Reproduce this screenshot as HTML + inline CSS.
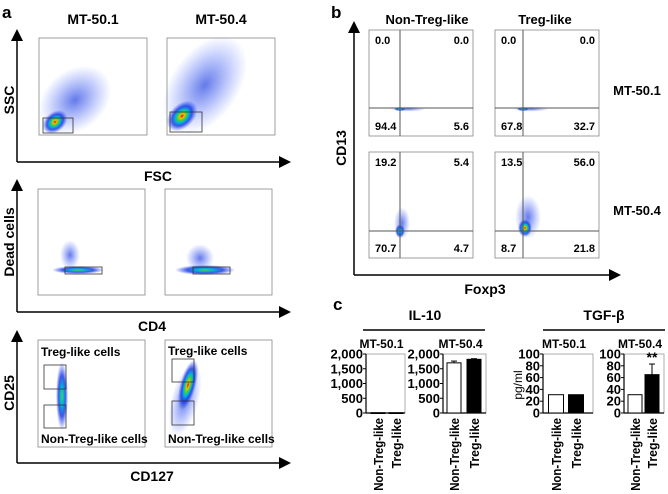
<!DOCTYPE html>
<html><head><meta charset="utf-8"><style>
html,body{margin:0;padding:0;background:#fff}
svg{display:block;font-family:"Liberation Sans",Arial,sans-serif;font-weight:bold}
</style></head><body>
<svg id="fig" width="668" height="494" viewBox="0 0 668 494">
<defs>
<radialGradient id="jet"><stop offset="0" stop-color="#e00000"/><stop offset="0.15" stop-color="#f0c000"/><stop offset="0.3" stop-color="#40d040"/><stop offset="0.45" stop-color="#00b0e0"/><stop offset="0.65" stop-color="#1030e0" stop-opacity="0.8"/><stop offset="1" stop-color="#2040ff" stop-opacity="0"/></radialGradient>
<radialGradient id="gjet"><stop offset="0" stop-color="#50d040"/><stop offset="0.3" stop-color="#00b0e0"/><stop offset="0.6" stop-color="#1030e0" stop-opacity="0.8"/><stop offset="1" stop-color="#2040ff" stop-opacity="0"/></radialGradient>
<radialGradient id="blue"><stop offset="0" stop-color="#2040e0" stop-opacity="0.7"/><stop offset="1" stop-color="#4060ff" stop-opacity="0"/></radialGradient>
<marker id="arr" markerWidth="8" markerHeight="8" refX="6" refY="4" orient="auto"><path d="M0,0 L8,4 L0,8 z" fill="#000"/></marker>
</defs>

<!-- PANEL A -->
<text x="2" y="18" font-size="17">a</text>
<text x="93" y="24" font-size="14" text-anchor="middle">MT-50.1</text>
<text x="221" y="24" font-size="14" text-anchor="middle">MT-50.4</text>
<line x1="17" y1="162" x2="17" y2="32" stroke="#000" stroke-width="1.5" marker-end="url(#arr)"/>
<line x1="17" y1="162" x2="288" y2="162" stroke="#000" stroke-width="1.5" marker-end="url(#arr)"/>
<text x="14" y="100" font-size="14" text-anchor="middle" transform="rotate(-90 14 100)">SSC</text>
<text x="158" y="181" font-size="14" text-anchor="middle">FSC</text>
<g>
<rect x="39" y="38" width="108" height="97" fill="#fff" stroke="#888" stroke-width="0.8"/>
<ellipse cx="75" cy="100" rx="40" ry="30" fill="url(#blue)" transform="rotate(-40 75 100)"/>
<ellipse cx="55" cy="122" rx="14" ry="10" fill="url(#jet)" transform="rotate(-40 55 122)"/>
<rect x="43" y="118" width="30" height="15" fill="none" stroke="#333" stroke-width="0.8"/>
</g>
<g>
<rect x="167" y="38" width="108" height="97" fill="#fff" stroke="#888" stroke-width="0.8"/>
<ellipse cx="205" cy="85" rx="55" ry="34" fill="url(#blue)" transform="rotate(-55 205 85)"/>
<ellipse cx="182" cy="116" rx="18" ry="12" fill="url(#jet)" transform="rotate(-45 182 116)"/>
<rect x="170" y="112" width="32" height="20" fill="none" stroke="#333" stroke-width="0.8"/>
</g>

<line x1="17" y1="312" x2="17" y2="182" stroke="#000" stroke-width="1.5" marker-end="url(#arr)"/>
<line x1="17" y1="312" x2="288" y2="312" stroke="#000" stroke-width="1.5" marker-end="url(#arr)"/>
<text x="14" y="242" font-size="14" text-anchor="middle" transform="rotate(-90 14 242)">Dead cells</text>
<text x="152" y="331" font-size="14" text-anchor="middle">CD4</text>
<g>
<rect x="38" y="189" width="107" height="106" fill="#fff" stroke="#888" stroke-width="0.8"/>
<ellipse cx="70" cy="255" rx="10" ry="15" fill="url(#blue)"/>
<ellipse cx="78" cy="270" rx="26" ry="4" fill="url(#gjet)"/>
<rect x="65" y="267" width="37" height="7" fill="none" stroke="#333" stroke-width="0.8"/>
</g>
<g>
<rect x="165" y="189" width="107" height="106" fill="#fff" stroke="#888" stroke-width="0.8"/>
<ellipse cx="200" cy="258" rx="14" ry="14" fill="url(#blue)"/>
<ellipse cx="205" cy="270" rx="30" ry="5" fill="url(#gjet)"/>
<rect x="193" y="267" width="37" height="7" fill="none" stroke="#333" stroke-width="0.8"/>
</g>

<line x1="17" y1="463" x2="17" y2="333" stroke="#000" stroke-width="1.5" marker-end="url(#arr)"/>
<line x1="17" y1="463" x2="288" y2="463" stroke="#000" stroke-width="1.5" marker-end="url(#arr)"/>
<text x="14" y="393" font-size="14" text-anchor="middle" transform="rotate(-90 14 393)">CD25</text>
<text x="152" y="481" font-size="14" text-anchor="middle">CD127</text>
<g>
<rect x="38" y="340" width="107" height="107" fill="#fff" stroke="#888" stroke-width="0.8"/>
<ellipse cx="62" cy="396" rx="6" ry="34" fill="url(#gjet)"/>
<rect x="44" y="365" width="22" height="24" fill="none" stroke="#333" stroke-width="0.8"/>
<rect x="44" y="405" width="22" height="23" fill="none" stroke="#333" stroke-width="0.8"/>
<text x="41" y="356" font-size="12">Treg-like cells</text>
<text x="41" y="443" font-size="12">Non-Treg-like cells</text>
</g>
<g>
<rect x="165" y="340" width="107" height="107" fill="#fff" stroke="#888" stroke-width="0.8"/>
<ellipse cx="185" cy="400" rx="14" ry="38" fill="url(#blue)" transform="rotate(15 185 400)"/>
<ellipse cx="188" cy="385" rx="8" ry="26" fill="url(#jet)" transform="rotate(15 188 385)"/>
<rect x="172" y="359" width="22" height="23" fill="none" stroke="#333" stroke-width="0.8"/>
<rect x="172" y="401" width="22" height="24" fill="none" stroke="#333" stroke-width="0.8"/>
<text x="168" y="355" font-size="12">Treg-like cells</text>
<text x="168" y="443" font-size="12">Non-Treg-like cells</text>
</g>

<!-- PANEL B -->
<text x="331" y="18" font-size="17">b</text>
<text x="427" y="24" font-size="13" text-anchor="middle">Non-Treg-like</text>
<text x="545" y="24" font-size="13" text-anchor="middle">Treg-like</text>
<line x1="354" y1="275" x2="354" y2="24" stroke="#000" stroke-width="1.5" marker-end="url(#arr)"/>
<line x1="354" y1="275" x2="618" y2="275" stroke="#000" stroke-width="1.5" marker-end="url(#arr)"/>
<text x="346" y="148" font-size="14" text-anchor="middle" transform="rotate(-90 346 148)">CD13</text>
<text x="485" y="294" font-size="14" text-anchor="middle">Foxp3</text>
<text x="637" y="95" font-size="13" text-anchor="middle">MT-50.1</text>
<text x="637" y="215" font-size="13" text-anchor="middle">MT-50.4</text>
<g id="quads"></g>

<!-- PANEL C -->
<text x="333" y="310" font-size="17">c</text>
<text x="425" y="320" font-size="14" text-anchor="middle">IL-10</text>
<line x1="363" y1="330" x2="485" y2="330" stroke="#000" stroke-width="1.5"/>
<text x="604" y="320" font-size="14" text-anchor="middle">TGF-β</text>
<line x1="543" y1="330" x2="665" y2="330" stroke="#000" stroke-width="1.5"/>
<text x="522" y="385" font-size="12" text-anchor="middle" font-weight="normal" transform="rotate(-90 522 385)">pg/ml</text>
<g id="bars"></g>
</svg>
<script>
// Quadrant percentages (panel b)
const quadRows = ['MT-50.1','MT-50.4'];
const quadCols = ['Non-Treg-like','Treg-like'];
const quadUL = [[0.0,0.0],[19.2,13.5]];
const quadUR = [[0.0,0.0],[5.4,56.0]];
const quadLL = [[94.4,67.8],[70.7,8.7]];
const quadLR = [[5.6,32.7],[4.7,21.8]];

// Bar chart data (panel c)
const barCategories = ['Non-Treg-like','Treg-like'];
const il10Mt501 = [10, 10];
const il10Mt504 = [1700, 1820];
const il10Mt504Err = [60, 20];
const tgfMt501 = [31, 31];
const tgfMt504 = [31, 65];
const tgfMt504Err = [0, 18];
const il10Ticks = [0, 500, 1000, 1500, 2000];
const tgfTicks = [0, 20, 40, 60, 80, 100];

const NS='http://www.w3.org/2000/svg';
function mk(tag, attrs, parent){const e=document.createElementNS(NS,tag);for(const k in attrs)e.setAttribute(k,attrs[k]);parent.appendChild(e);return e;}
function fmt(v){return v.toLocaleString('en-US');}

// Quadrant plots
const qg=document.getElementById('quads');
const qx=[369,495], qy=[30,152], qw=104, qh=106;
const vlineOff=[31,28], hlineOff=[78,79];
for(let r=0;r<2;r++)for(let c=0;c<2;c++){
  const g=mk('g',{},qg);
  
  
  const x=qx[c], y=qy[r];
  mk('rect',{x:x,y:y,width:qw,height:qh,fill:'#fff',stroke:'#888','stroke-width':0.8},g);
  const vx=x+vlineOff[c], hy=y+hlineOff[r];
  if(r===0){
    mk('ellipse',{cx:vx+8,cy:hy+1,rx:18,ry:2.5,fill:'url(#blue)'},g);
    mk('ellipse',{cx:vx,cy:hy+1,rx:6,ry:2,fill:'url(#gjet)'},g);
  } else if(c===0){
    mk('ellipse',{cx:vx+2,cy:hy-8,rx:8,ry:16,fill:'url(#blue)'},g);
    mk('ellipse',{cx:vx,cy:hy,rx:5,ry:7,fill:'url(#gjet)'},g);
  } else {
    mk('ellipse',{cx:vx+5,cy:hy-14,rx:13,ry:22,fill:'url(#blue)'},g);
    mk('ellipse',{cx:vx+2,cy:hy-3,rx:7,ry:9,fill:'url(#jet)'},g);
  }
  mk('line',{x1:vx,y1:y,x2:vx,y2:y+qh,stroke:'#555','stroke-width':1},g);
  mk('line',{x1:x,y1:hy,x2:x+qw,y2:hy,stroke:'#555','stroke-width':1},g);
  const vals=[[quadUL,x+6,y+14,'start'],[quadUR,x+qw-4,y+14,'end'],[quadLL,x+6,y+qh-6,'start'],[quadLR,x+qw-4,y+qh-6,'end']];
  vals.forEach(([arr,tx,ty,an])=>{
    const t=mk('text',{x:tx,y:ty,'font-size':11,'text-anchor':an},g);
    
    
    t.textContent=arr[r][c].toFixed(1);
  });
}

// Bar plots
const bg=document.getElementById('bars');
const y0=413, yTop=354;
function drawBars(name, axisX, boxW, title, vals, errs, ticks, maxV, off, bw){
  const g=mk('g',{},bg);
  
  
  const ys=v=>y0-(v/maxV)*(y0-yTop);
  const t=mk('text',{x:axisX+boxW/2-4,y:348,'font-size':12,'text-anchor':'middle'},g);
  
  
  t.textContent=title;
  mk('rect',{x:axisX,y:yTop,width:boxW,height:y0-yTop,fill:'none',stroke:'#999','stroke-width':0.8},g);
  mk('line',{x1:axisX,y1:yTop,x2:axisX,y2:y0,stroke:'#000','stroke-width':1.2},g);
  mk('line',{x1:axisX,y1:y0,x2:axisX+boxW,y2:y0,stroke:'#000','stroke-width':1.2},g);
  ticks.forEach(tv=>{
    const ty=ys(tv);
    mk('line',{x1:axisX-3,y1:ty,x2:axisX,y2:ty,stroke:'#000'},g);
    const tl=mk('text',{x:axisX-3,y:ty+4.5,'font-size':13,'text-anchor':'end'},g);
    
    
    tl.textContent=fmt(tv);
  });
  vals.forEach((v,i)=>{
    const cx=axisX+off[i];
    const r=mk('rect',{x:cx-bw/2,y:ys(v),width:bw,height:Math.max(0.8,y0-ys(v)),fill:i===0?'#fff':'#000',stroke:'#000','stroke-width':1},g);
    
    
    if(errs && errs[i]>0){
      const ey=ys(v+errs[i]);
      mk('line',{x1:cx,y1:ys(v),x2:cx,y2:ey,stroke:'#000','stroke-width':1},g);
      mk('line',{x1:cx-3,y1:ey,x2:cx+3,y2:ey,stroke:'#000','stroke-width':1},g);
    }
    const lab=barCategories[i];
    const cl=mk('text',{x:0,y:0,'font-size':12.5,'text-anchor':'end',textLength:lab.length*5.6,lengthAdjust:'spacingAndGlyphs',transform:'translate('+(cx+5)+','+(y0+5)+') rotate(-90)'},g);
    
    
    cl.textContent=lab;
  });
  return {g,ys};
}
drawBars('il10-mt501-chart',366,39,'MT-50.1',il10Mt501,null,il10Ticks,2000,[12,30],14);
drawBars('il10-mt504-chart',443,43,'MT-50.4',il10Mt504,il10Mt504Err,il10Ticks,2000,[11,31],14);
drawBars('tgf-mt501-chart',543,50,'MT-50.1',tgfMt501,null,tgfTicks,100,[13,33],15);
const last=drawBars('tgf-mt504-chart',624,40,'MT-50.4',tgfMt504,tgfMt504Err,tgfTicks,100,[11,28],14);
const star=mk('text',{x:652,y:last.ys(tgfMt504[1]+tgfMt504Err[1])-2,'font-size':14,'text-anchor':'middle'},last.g);


star.textContent='**';
</script>
</body></html>
